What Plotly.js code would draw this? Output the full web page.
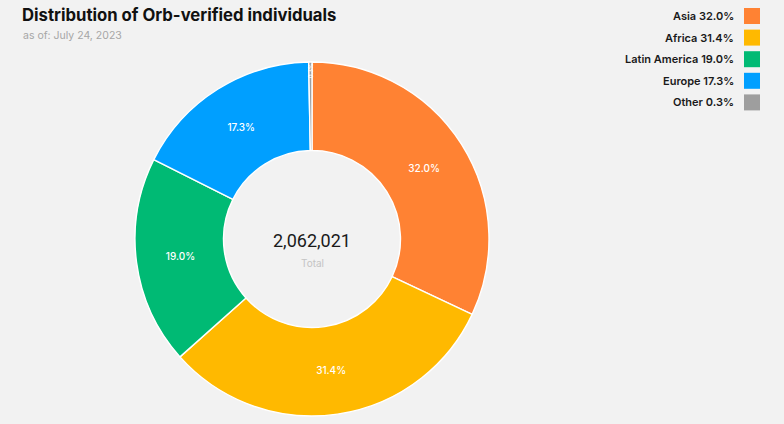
<!DOCTYPE html>
<html>
<head>
<meta charset="utf-8">
<script src="https://cdn.plot.ly/plotly-3.0.1.min.js"></script>
<style>
html,body{margin:0;padding:0;background:#f2f2f2;}
#chart{width:784px;height:424px;}
</style>
</head>
<body>
<div id="chart"></div>
<script>
var regions = ["Asia", "Africa", "Latin America", "Europe", "Other"];
var shares = [32.0, 31.4, 19.0, 17.3, 0.3];
var colors = ["#FF8233", "#FFB900", "#00BA74", "#009FFF", "#9E9E9E"];
var totalLabel = "2,062,021";

var FONT = "Inter, Roboto, sans-serif";
var W = 784, H = 424, CX = 312, CY = 239, R = 177;

var sum = shares.reduce(function (a, b) { return a + b; }, 0);
var last = shares.length - 1;
// Tiny slice is too thin for Plotly's inside text; label it radially near the rim
var cumBefore = sum - shares[last];
var midAngle = (cumBefore + shares[last] / 2) / sum * 2 * Math.PI;
var rLab = R * 0.95;
var smallX = CX + rLab * Math.sin(midAngle);
var smallY = CY - rLab * Math.cos(midAngle);

var texts = shares.map(function (v, i) { return i === last ? "" : v.toFixed(1) + "%"; });

var trace = {
  type: "pie",
  labels: regions,
  values: shares,
  text: texts,
  sort: false,
  direction: "clockwise",
  rotation: 0,
  hole: 0.5,
  marker: {colors: colors, line: {color: "#ffffff", width: 1.4}},
  textinfo: "text",
  textposition: "inside",
  insidetextorientation: "auto",
  textfont: {color: "#ffffff", size: 10, family: FONT, weight: 500},
  domain: {x: [(CX - R) / W, (CX + R) / W], y: [(H - CY - R) / H, (H - CY + R) / H]},
  showlegend: false,
  hoverinfo: "label+percent"
};

var annotations = [
  {text: "as of: July 24, 2023", xref: "paper", yref: "paper", x: 21 / W, y: 1 - 36 / H,
   xanchor: "left", yanchor: "middle", showarrow: false, font: {size: 10.5, color: "#a6a6a6", family: FONT}},
  {text: totalLabel, xref: "paper", yref: "paper", x: CX / W, y: 1 - 240 / H,
   xanchor: "center", yanchor: "middle", showarrow: false, font: {size: 18, color: "#1a1a1a", family: "Roboto, sans-serif"}},
  {text: "Total", xref: "paper", yref: "paper", x: CX / W, y: 1 - 263 / H,
   xanchor: "center", yanchor: "middle", showarrow: false, font: {size: 10, color: "#c4c4c4", family: FONT}},
  {text: shares[last].toFixed(1) + "%", xref: "paper", yref: "paper", x: smallX / W, y: 1 - smallY / H,
   xanchor: "center", yanchor: "middle", textangle: -90, showarrow: false,
   font: {size: 6, color: "#ffffff", family: FONT, weight: 500}}
];
var shapes = [];
regions.forEach(function (r, i) {
  var cy = 16 + i * 21.6;
  annotations.push({
    text: r + " " + shares[i].toFixed(1) + "%", xref: "paper", yref: "paper",
    x: 736 / W, y: 1 - cy / H, xanchor: "right", yanchor: "middle", showarrow: false,
    font: {size: 11, color: "#1a1a1a", family: FONT, weight: 600}
  });
  shapes.push({
    type: "rect", xref: "paper", yref: "paper",
    x0: 744 / W, x1: 760 / W, y0: 1 - (cy - 8) / H, y1: 1 - (cy + 8) / H,
    fillcolor: colors[i], line: {width: 0}
  });
});

var layout = {
  width: W, height: H,
  margin: {l: 0, r: 0, t: 0, b: 0},
  paper_bgcolor: "#f2f2f2",
  plot_bgcolor: "#f2f2f2",
  title: {text: "<b>Distribution of Orb-verified individuals</b>", x: 22 / W, xanchor: "left",
          y: 1 - 15 / H, yanchor: "middle", font: {size: 16.7, color: "#111111", family: FONT}},
  annotations: annotations,
  shapes: shapes,
  showlegend: false
};

Plotly.newPlot("chart", [trace], layout, {displayModeBar: false, staticPlot: true});
</script>
</body>
</html>
